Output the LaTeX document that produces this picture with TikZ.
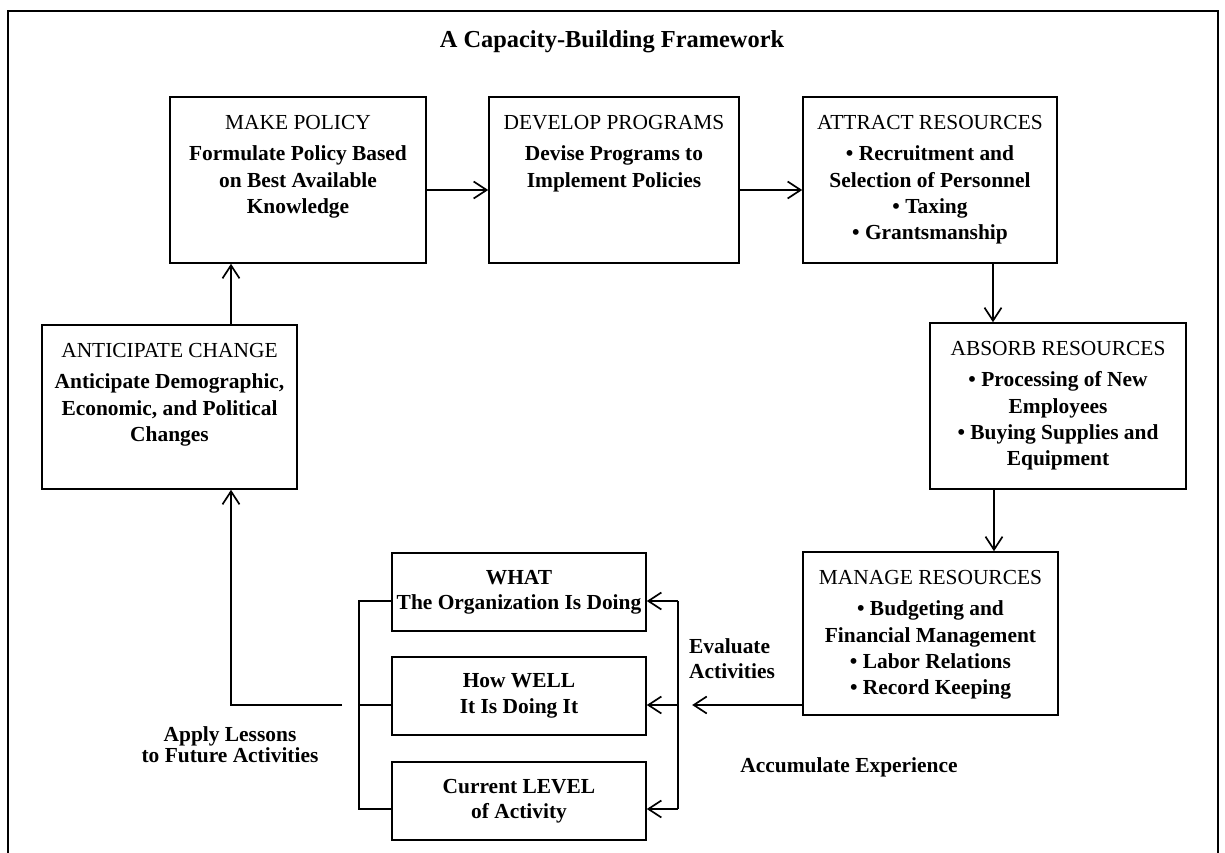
\documentclass[tikz,border=0pt]{standalone}
\usepackage{fontspec}
\setmainfont{Liberation Serif}
\usetikzlibrary{arrows.meta}
\begin{document}
\begin{tikzpicture}[x=1bp,y=-1bp,
  box/.style={draw, line width=1.6bp, inner sep=0pt},
  txt/.style={inner sep=0pt, align=center, font=\fontsize{21.5}{26.5}\selectfont\bfseries},
  lbl/.style={inner sep=0pt, font=\fontsize{21.5}{26}\selectfont\bfseries},
  arr/.style={line width=1.7bp, -{Straight Barb[length=13bp,width=17bp,line width=1.7bp]}},
  link/.style={line width=1.7bp},
  frame/.style={line width=2.8bp}]

\useasboundingbox (0,0) rectangle (1225,853);
\fill[white] (0,0) rectangle (1225,853);

% open frame round the chart
\draw[frame] (8,853) -- (8,11) -- (1218,11) -- (1218,853);

\node[inner sep=0pt, anchor=base, font=\fontsize{24.5}{28}\selectfont\bfseries] (title) at (612,47) {A Capacity-Building Framework};

% main cycle boxes
\node[box, minimum width=256bp, minimum height=166bp] (make)    at (298,180) {};
\node[box, minimum width=250bp, minimum height=166bp] (develop) at (614,180) {};
\node[box, minimum width=254bp, minimum height=166bp] (attract) at (930,180) {};
\node[box, minimum width=256bp, minimum height=166bp] (absorb)  at (1058,406) {};
\node[box, minimum width=255bp, minimum height=163bp] (manage)  at (930.5,633.5) {};
\node[box, minimum width=255bp, minimum height=164bp] (anticipate) at (169.5,407) {};

\node[txt, anchor=north] (make-t) at ([yshift=-19.3bp]make.north)
  {{\mdseries MAKE POLICY}\\[4.5pt]Formulate Policy Based\\on Best Available\\Knowledge};
\node[txt, anchor=north] (develop-t) at ([yshift=-19.3bp]develop.north)
  {{\mdseries DEVELOP PROGRAMS}\\[4.5pt]Devise Programs to\\Implement Policies};
\node[txt, anchor=north] (attract-t) at ([yshift=-19.3bp]attract.north)
  {{\mdseries ATTRACT RESOURCES}\\[4.5pt]\textbullet\ Recruitment and\\Selection of Personnel\\\textbullet\ Taxing\\\textbullet\ Grantsmanship};
\node[txt, anchor=north] (absorb-t) at ([yshift=-19.3bp]absorb.north)
  {{\mdseries ABSORB RESOURCES}\\[4.5pt]\textbullet\ Processing of New\\Employees\\\textbullet\ Buying Supplies and\\Equipment};
\node[txt, anchor=north] (manage-t) at ([yshift=-19.3bp]manage.north)
  {{\mdseries MANAGE RESOURCES}\\[4.5pt]\textbullet\ Budgeting and\\Financial Management\\\textbullet\ Labor Relations\\\textbullet\ Record Keeping};
\node[txt, anchor=north] (anticipate-t) at ([yshift=-19.3bp]anticipate.north)
  {{\mdseries ANTICIPATE CHANGE}\\[4.5pt]Anticipate Demographic,\\Economic, and Political\\Changes};

% evaluation boxes
\node[box, minimum width=254bp, minimum height=78bp] (what)  at (519,592) {};
\node[box, minimum width=254bp, minimum height=78bp] (how)   at (519,696) {};
\node[box, minimum width=254bp, minimum height=78bp] (level) at (519,801) {};

\node[txt, anchor=north, font=\fontsize{21.5}{26}\selectfont\bfseries] (what-t) at ([yshift=-17.5bp]what.north)
  {WHAT\\The Organization Is Doing};
\node[txt, anchor=north, font=\fontsize{21.5}{26}\selectfont\bfseries] (how-t) at ([yshift=-17.5bp]how.north)
  {How WELL\\It Is Doing It};
\node[txt, anchor=north, font=\fontsize{21.5}{26}\selectfont\bfseries] (level-t) at ([yshift=-17.5bp]level.north)
  {Current LEVEL\\of Activity};

% connectors of the cycle
\draw[arr] ([yshift=-10bp]make.east) -- ([yshift=-10bp]make.east -| develop.west);
\draw[arr] ([yshift=-10bp]develop.east) -- ([yshift=-10bp]develop.east -| attract.west);
\draw[arr] ([xshift=63bp]attract.south) -- ([xshift=63bp]attract.south |- absorb.north);
\draw[arr] ([xshift=-64bp]absorb.south) -- ([xshift=-64bp]absorb.south |- manage.north);
\draw[arr] ([xshift=61.5bp]anticipate.north) -- ([xshift=61.5bp]anticipate.north |- make.south);

% experience flowing into the evaluation
\coordinate (gather) at ([xshift=-110bp,yshift=-71.5bp]manage.west);
\draw[arr] ([yshift=-71.5bp]manage.west) -- (gather);

% right bracket feeding the three boxes
\coordinate (rtop) at ([xshift=31bp,yshift=-9bp]what.east);
\coordinate (rmid) at ([xshift=31bp,yshift=-9bp]how.east);
\coordinate (rbot) at ([xshift=31bp,yshift=-8bp]level.east);
\draw[link] (rtop) -- (rbot);
\draw[arr] (rtop) -- ([yshift=-9bp]what.east);
\draw[arr] (rmid) -- ([yshift=-9bp]how.east);
\draw[arr] (rbot) -- ([yshift=-8bp]level.east);

% left bracket collecting the three boxes
\coordinate (ltop) at ([xshift=-32bp,yshift=-9bp]what.west);
\coordinate (lmid) at ([xshift=-32bp,yshift=-9bp]how.west);
\coordinate (lbot) at ([xshift=-32bp,yshift=-8bp]level.west);
\draw[link] ([yshift=-9bp]what.west) -- (ltop) -- (lbot) -- ([yshift=-8bp]level.west);
\draw[link] (lmid) -- ([yshift=-9bp]how.west);

% lessons fed back to anticipation
\coordinate (lessons) at ([xshift=-17bp]lmid);
\draw[arr] (lessons) -| ([xshift=61.5bp]anticipate.south);

% free labels
\node[lbl, align=left, anchor=north west] (evaluate) at (689,638) {Evaluate\\Activities};
\node[lbl, align=center, anchor=north, font=\fontsize{21.5}{22}\selectfont\bfseries] (apply) at (230,726) {Apply Lessons\\to Future Activities};
\node[lbl, anchor=base] (accumulate) at (849,772) {Accumulate Experience};
\end{tikzpicture}
\end{document}
